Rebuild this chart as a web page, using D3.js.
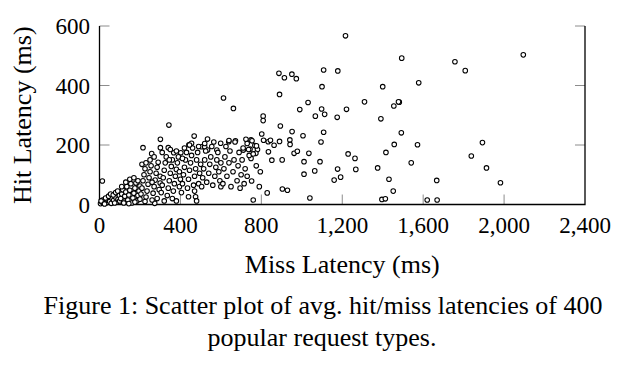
<!DOCTYPE html>
<html><head><meta charset="utf-8">
<script src="https://cdn.jsdelivr.net/npm/d3@7"></script>
<style>body{margin:0;background:#fff}</style></head><body>
<svg id="c" width="641" height="367"></svg>
<script>
// Average miss latency (ms) and hit latency (ms), paired by index
const missLatency = [
 1216,1494,1757,1808,2095,1578,1482,1492,1572,1893,1838,1541,1913,1667,1982,1620,1669,951,973,887,914,1108,1178,1100,1400,890,1031,990,1098,1113,1067,1175,1221,1310,1455,1478,1391,613,662,809,809,802,834,894,952,1006,1108,749,811,845,890,941,942,1095,768,781,863,744,1457,835,962,978,1035,1229,1416,1263,749,852,903,1011,1090,1177,1267,1375,1064,1011,1192,1160,1431,752,1452,904,929,829,760,1040,1396,1413,14,273,380,440,475,480,343,301,468,534,
 215,258,340,367,402,505,520,534,580,599,639,672,724,754,776,711,737,773,442,455,301,
 5,12,20,28,35,42,50,58,62,70,78,85,92,98,15,30,45,55,68,80,90,100,8,25,75,
 105,110,115,120,125,130,135,140,145,150,155,160,165,170,175,180,185,190,195,200,110,130,150,170,190,120,145,175,200,
 205,210,215,220,225,230,235,240,245,250,255,260,265,270,275,280,285,290,295,300,210,230,250,270,225,285,300,260,
 305,310,315,320,325,330,335,340,345,350,355,360,365,370,375,380,385,390,395,400,310,350,380,320,360,395,345,
 405,410,415,420,425,430,435,440,445,450,455,460,465,470,475,480,485,490,495,500,420,445,490,410,470,
 505,510,515,520,525,530,540,545,550,555,560,570,575,580,585,590,595,600,565,520,600,
 610,615,620,625,630,640,645,650,660,665,670,680,685,690,695,700,640,
 705,710,715,720,730,740,775,790,795,730,760
];
const hitLatency = [
 567,492,480,450,503,409,344,241,201,208,163,140,123,81,73,15,15,438,423,441,426,452,449,396,396,370,343,319,321,303,297,293,320,345,331,345,288,358,323,297,282,237,211,264,245,231,243,217,216,216,212,217,202,210,198,185,199,186,202,177,172,179,172,170,175,155,155,149,150,144,144,119,118,123,113,102,92,82,85,79,45,52,48,39,15,22,17,19,79,4,12,26,26,12,267,219,230,220,
 191,171,191,174,174,194,194,183,183,206,211,214,219,214,197,183,185,172,201,206,191,
 3,8,5,12,6,15,10,4,20,14,25,8,18,30,15,22,28,35,32,40,45,12,12,2,5,
 20,35,50,8,28,42,60,15,32,48,70,5,22,38,55,72,12,30,45,62,60,75,85,90,80,5,3,8,18,
 35,55,80,100,120,25,45,68,90,110,130,15,38,60,82,105,125,142,50,72,135,140,150,160,10,20,95,75,
 40,65,90,115,140,160,30,55,80,105,128,150,45,70,95,118,140,160,60,85,175,185,180,12,20,110,150,
 40,70,100,125,150,175,55,85,115,140,165,190,65,95,120,150,175,70,105,135,190,200,195,155,45,
 60,90,120,150,180,75,105,135,160,195,65,95,125,150,175,110,80,140,210,205,60,
 70,120,160,195,95,140,180,60,110,150,210,80,130,175,55,100,215,
 150,190,70,120,95,165,130,60,110,205,170
];
const xTicks = [0, 400, 800, 1200, 1600, 2000, 2400];
const yTicks = [0, 200, 400, 600];

const svg = d3.select("#c");
const L = 99.5, R = 585, T = 26, B = 204.5;
const x = d3.scaleLinear().domain([0, 2400]).range([L, R]);
const y = d3.scaleLinear().domain([0, 600]).range([B, T]);
const font = "'Liberation Serif','Times New Roman',serif";
const fmt = d3.format(",");

// tick marks (inward, gray)
const g = svg.append("g");
g.selectAll(".xt").data(xTicks.slice(1, -1)).enter().append("line")
  .attr("x1", d => x(d)).attr("x2", d => x(d)).attr("y1", B).attr("y2", B - 10)
  .attr("stroke", "#8c8c8c").attr("stroke-width", 1);
g.selectAll(".ylt").data(yTicks).enter().append("line")
  .attr("x1", L).attr("x2", L + 10).attr("y1", d => y(d)).attr("y2", d => y(d))
  .attr("stroke", "#8c8c8c").attr("stroke-width", 1);
g.selectAll(".yrt").data(yTicks).enter().append("line")
  .attr("x1", R).attr("x2", R - 10).attr("y1", d => y(d)).attr("y2", d => y(d))
  .attr("stroke", "#8c8c8c").attr("stroke-width", 1);

// axis lines
svg.append("path").attr("d", `M${L},${T}V${B}H${R}V${T}`)
  .attr("fill", "none").attr("stroke", "#000").attr("stroke-width", 1.3);

// tick labels
svg.selectAll(".xl").data(xTicks).enter().append("text")
  .attr("x", d => x(d)).attr("y", 233).attr("text-anchor", "middle")
  .attr("font-family", font).attr("font-size", 23).text(d => fmt(d));
svg.selectAll(".yl").data(yTicks).enter().append("text")
  .attr("x", 90).attr("y", d => y(d) + 8).attr("text-anchor", "end")
  .attr("font-family", font).attr("font-size", 23).text(d => fmt(d));

// points
const pts = missLatency.map((m, i) => ({m, h: hitLatency[i]}));
svg.append("g").selectAll("circle").data(pts).enter().append("circle")
  .attr("cx", d => x(d.m)).attr("cy", d => y(d.h)).attr("r", 2.3)
  .attr("fill", "#fff").attr("stroke", "#000").attr("stroke-width", 1.05);

// axis labels
svg.append("text").attr("x", (L + R) / 2).attr("y", 273).attr("text-anchor", "middle")
  .attr("font-family", font).attr("font-size", 26).text("Miss Latency (ms)");
svg.append("text").attr("transform", `translate(31,${(T + B) / 2}) rotate(-90)`)
  .attr("text-anchor", "middle").attr("font-family", font).attr("font-size", 26)
  .text("Hit Latency (ms)");

// caption
svg.append("text").attr("x", 323).attr("y", 314).attr("text-anchor", "middle")
  .attr("font-family", font).attr("font-size", 26)
  .text("Figure 1: Scatter plot of avg. hit/miss latencies of 400");
svg.append("text").attr("x", 322).attr("y", 346).attr("text-anchor", "middle")
  .attr("font-family", font).attr("font-size", 26)
  .text("popular request types.");
</script>
</body></html>
